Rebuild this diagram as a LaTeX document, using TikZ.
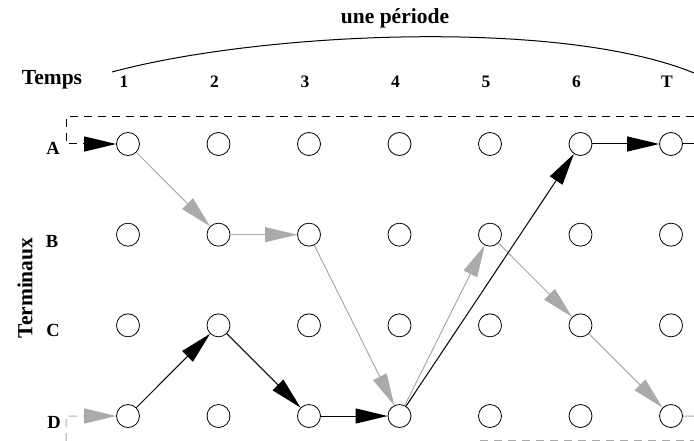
\documentclass[tikz,border=0pt]{standalone}
\usepackage{fontspec}
\setmainfont{Liberation Serif}
\usetikzlibrary{arrows.meta}
\definecolor{lgray}{RGB}{170,170,170}
\tikzset{
  dot/.style={circle,draw,line width=0.8pt,minimum size=23pt,inner sep=0pt},
  blk/.style={draw=black,line width=1pt,-{Triangle[length=32pt,width=15pt]}},
  gry/.style={draw=lgray,line width=1pt,-{Triangle[length=32pt,width=15pt]}},
  dsh/.style={dash pattern=on 8pt off 6pt},
  lab/.style={font=\bfseries\fontsize{18.5}{18.5}\selectfont,inner sep=0pt},
  big/.style={font=\bfseries\fontsize{21.5}{21.5}\selectfont,inner sep=0pt},
  num/.style={font=\bfseries\fontsize{17.5}{17.5}\selectfont,inner sep=0pt}
}
\begin{document}
\begin{tikzpicture}[x=1pt,y=-1pt]
\useasboundingbox (0,0) rectangle (694,441);
\foreach \r [count=\j from 0] in {A,B,C,D}
  \foreach \c in {1,...,7}
    \node[dot] (\r\c) at ({128+90.5*(\c-1)},{144+90.67*\j}) {};
% headings
\node[big] (temps) at (52,80) {Temps};
\node[big] (per) at (395,18) {une période};
\foreach \c/\t in {1/1,2/2,3/3,4/4,5/5,6/6,7/T}
  \node[num] (n\c) at ({124+90.5*(\c-1)},82) {\t};
\node[lab] (la) at (53,148) {A};
\node[lab] (lb) at (52,241) {B};
\node[lab] (lc) at (53,330) {C};
\node[lab] (ld) at (54,422) {D};
\node[big,rotate=90] (term) at (25,288) {Terminaux};
% period arc
\coordinate (arcL) at (112,72);
\coordinate (arcR) at (694,73);
\draw[line width=1pt] (arcL) .. controls (260,32) and (560,18) .. (arcR);
% boundaries
\coordinate (tr) at (694,117);
\coordinate (tl) at (66,117);
\coordinate (al) at (66,144);
\draw[blk,dsh] (tr) -- (tl) -- (al) -- (A1);
\coordinate (bl) at (66,441);
\coordinate (dl) at (66,416);
\draw[gry,dsh] (bl) -- (dl) -- (D1);
\coordinate (bm) at (480,440);
\coordinate (br) at (694,440);
\draw[lgray,line width=1pt,dsh] (bm) -- (br);
\coordinate (ar) at (694,144);
\coordinate (dr) at (694,416);
% gray path
\draw[gry] (A1) -- (B2);
\draw[gry] (B2) -- (B3);
\draw[gry] (B3) -- (D4);
\draw[gry] (D4) -- (B5);
\draw[gry] (B5) -- (C6);
\draw[gry] (C6) -- (D7);
\draw[lgray,line width=1pt] (D7) -- (dr);
% black path
\draw[blk] (D1) -- (C2);
\draw[blk] (C2) -- (D3);
\draw[blk] (D3) -- (D4);
\draw[blk] (D4) -- (A6);
\draw[blk] (A6) -- (A7);
\draw[line width=1pt] (A7) -- (ar);
\end{tikzpicture}
\end{document}
